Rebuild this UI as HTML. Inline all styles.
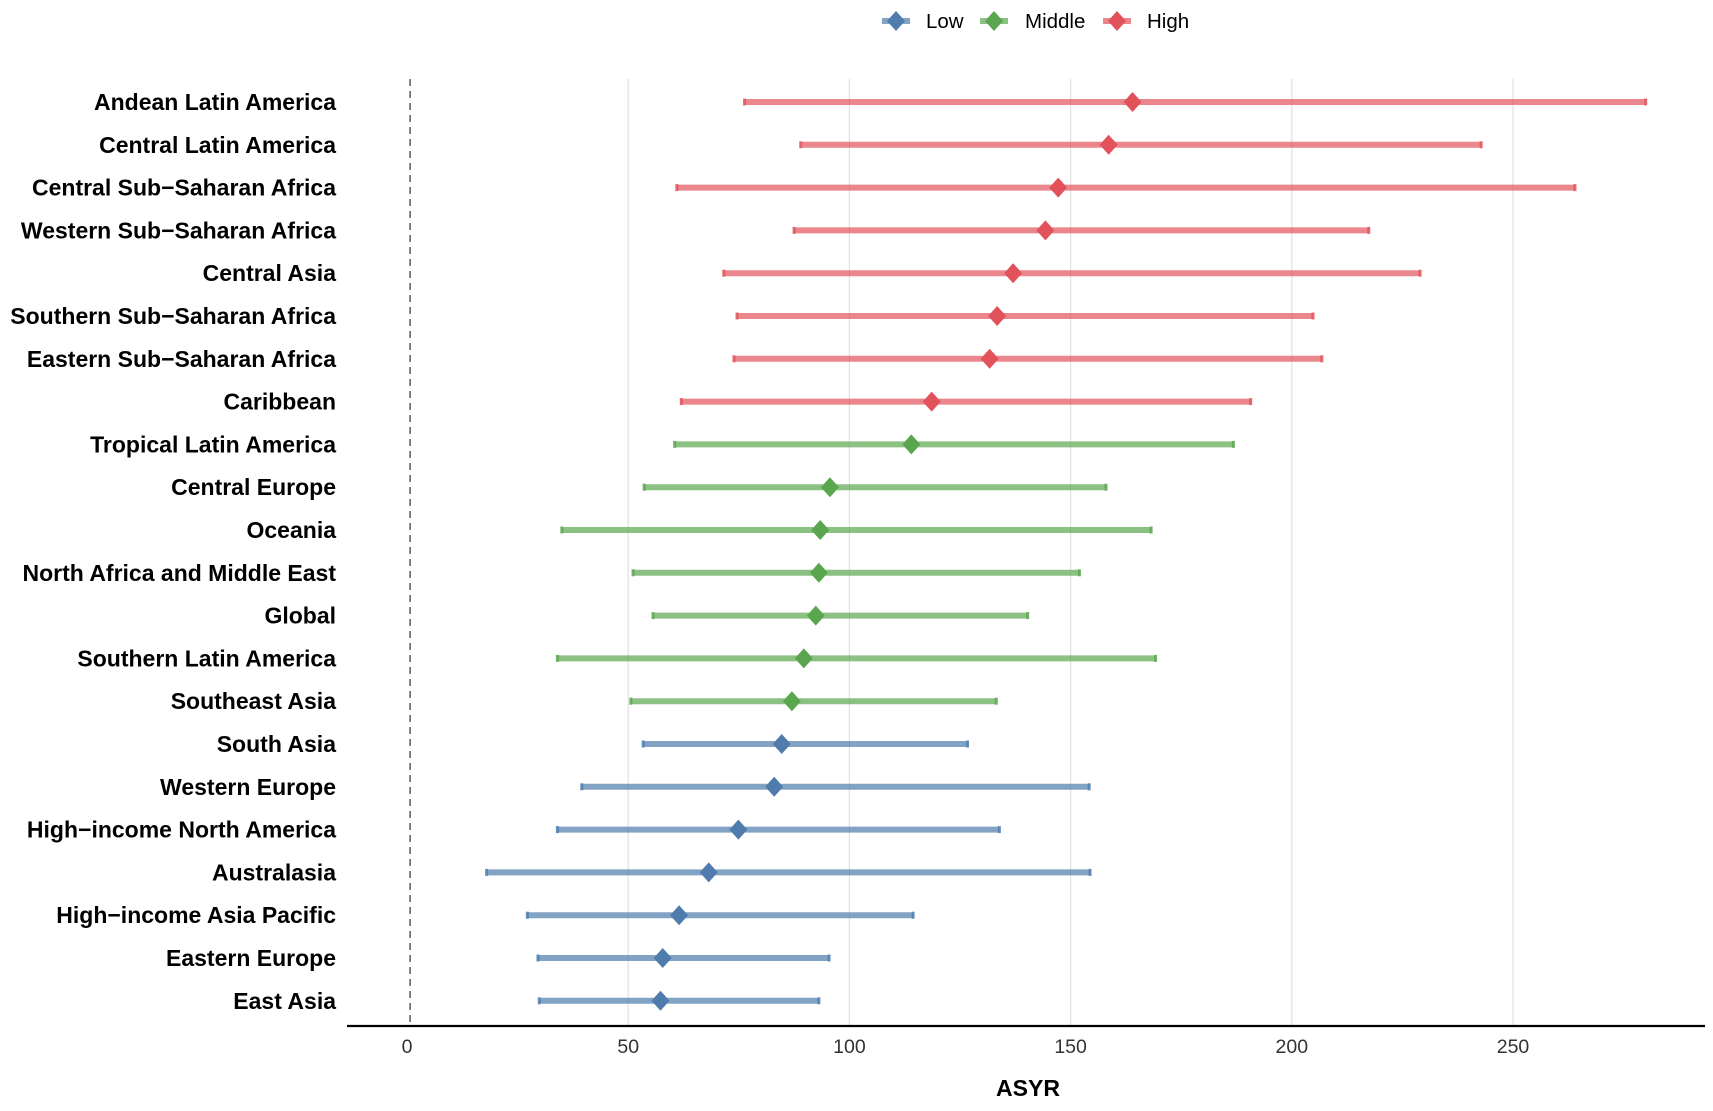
<!DOCTYPE html>
<html><head><meta charset="utf-8"><style>
html,body{margin:0;padding:0;background:#fff;}
svg{display:block;font-family:"Liberation Sans",Arial,sans-serif;}
</style></head><body>
<svg id="chart" width="1713" height="1111" viewBox="0 0 1713 1111" xmlns="http://www.w3.org/2000/svg"></svg>
<script>
const regions = ["Andean Latin America","Central Latin America","Central Sub\u2212Saharan Africa","Western Sub\u2212Saharan Africa","Central Asia","Southern Sub\u2212Saharan Africa","Eastern Sub\u2212Saharan Africa","Caribbean","Tropical Latin America","Central Europe","Oceania","North Africa and Middle East","Global","Southern Latin America","Southeast Asia","South Asia","Western Europe","High\u2212income North America","Australasia","High\u2212income Asia Pacific","Eastern Europe","East Asia"];
const groups = ["High","High","High","High","High","High","High","High","Middle","Middle","Middle","Middle","Middle","Middle","Middle","Low","Low","Low","Low","Low","Low","Low"];
const lower = [76.3,89,61,87.5,71.6,74.6,73.9,62,60.5,53.6,35,51.1,55.6,34,50.6,53.4,39.5,34,18,27.2,29.6,29.9];
const mid = [164,158.6,147.2,144.3,137,133.4,131.7,118.6,114,95.6,93.4,93.1,92.4,89.7,87,84.7,83,74.9,68.2,61.5,57.8,57.3];
const upper = [280,242.8,264,217.4,229,204.8,206.8,190.7,186.8,158,168.2,152,140.3,169.2,133.2,126.7,154.2,133.9,154.4,114.4,95.4,93.1];
const xTicks = [0,50,100,150,200,250];
const legendKeys = ["Low","Middle","High"];

const colors = {Low:"#4f7cac", Middle:"#5aa64f", High:"#e1525b"};
const NS = "http://www.w3.org/2000/svg";
const svg = document.getElementById("chart");
const x = v => 407 + v * 4.424;
const y = i => 102 + i * 42.8;
function mk(tag, attrs, parent){ const e=document.createElementNS(NS,tag); for(const k in attrs) e.setAttribute(k,attrs[k]); (parent||svg).appendChild(e); return e; }

xTicks.forEach(t=>{
  if(t===0) return;
  const g=mk("line",{x1:x(t),x2:x(t),y1:79,y2:1025,stroke:"#e3e3e3","stroke-width":1.3});
  
  
});
const ref=mk("line",{x1:x(0.7),x2:x(0.7),y1:79,y2:1025,stroke:"#666","stroke-width":1.6,"stroke-dasharray":"7,5"});


const ax=mk("line",{x1:347,x2:1705,y1:1026,y2:1026,stroke:"#000","stroke-width":2.2});


xTicks.forEach(t=>{
  const tx=mk("text",{x:x(t),y:1053,"text-anchor":"middle","font-size":19.5,fill:"#333"});
  tx.textContent=t;
  
  
});
const xt=mk("text",{x:1028,y:1096,"text-anchor":"middle","font-size":23,"font-weight":"bold",fill:"#000"});
xt.textContent="ASYR";



function diamond(cx,cy,c,parent){ return mk("polygon",{points:`${cx},${cy-10} ${cx+9},${cy} ${cx},${cy+10} ${cx-9},${cy}`,fill:c},parent); }

regions.forEach((r,i)=>{
  const c=colors[groups[i]], yy=y(i);
  const lab=mk("text",{x:336,y:yy+8,"text-anchor":"end","font-size":23,"font-weight":"bold",fill:"#000"});
  lab.textContent=r;
  
  
  const g=mk("g",{});
  
  
  mk("line",{x1:x(lower[i]),x2:x(upper[i]),y1:yy,y2:yy,stroke:c,"stroke-width":6,"stroke-opacity":0.7},g);
  mk("line",{x1:x(lower[i]),x2:x(lower[i]),y1:yy-3.5,y2:yy+3.5,stroke:c,"stroke-width":3,"stroke-opacity":0.85},g);
  mk("line",{x1:x(upper[i]),x2:x(upper[i]),y1:yy-3.5,y2:yy+3.5,stroke:c,"stroke-width":3,"stroke-opacity":0.85},g);
  const d=diamond(x(mid[i]),yy,c,g);
  
  
});

const legX=[896,994,1117], legTX=[926,1025,1147];
legendKeys.forEach((k,i)=>{
  const g=mk("g",{});
  
  
  mk("line",{x1:legX[i]-14,x2:legX[i]+14,y1:21,y2:21,stroke:colors[k],"stroke-width":6,"stroke-opacity":0.7},g);
  diamond(legX[i],21,colors[k],g);
  const t=mk("text",{x:legTX[i],y:28,"font-size":20.5,fill:"#000"},g);
  t.textContent=k;
});
</script>
</body></html>
